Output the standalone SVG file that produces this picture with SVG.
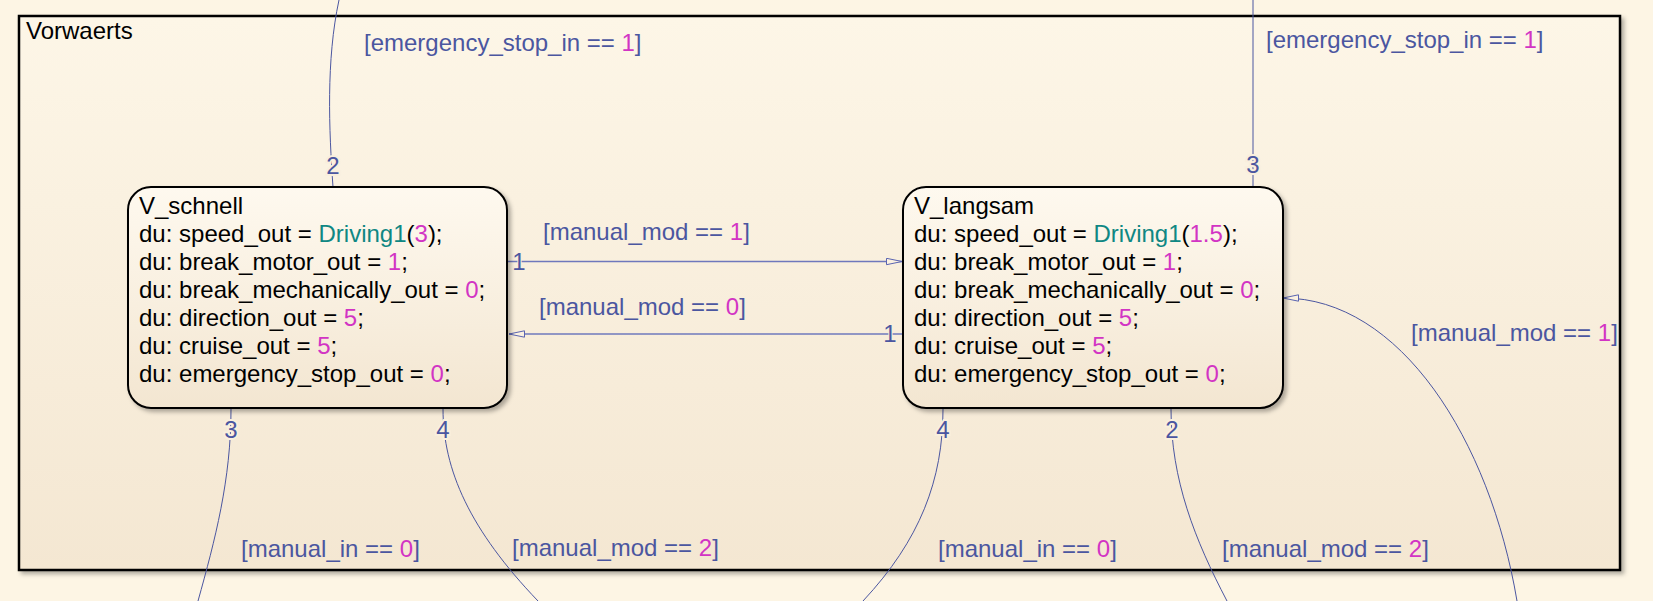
<svg xmlns="http://www.w3.org/2000/svg" width="1653" height="601" viewBox="0 0 1653 601">
<defs>
<linearGradient id="gFrame" x1="0" y1="0" x2="0" y2="1">
<stop offset="0" stop-color="#fdf6e7"/>
<stop offset="1" stop-color="#f4e7d2"/>
</linearGradient>
<linearGradient id="gState" x1="0" y1="0" x2="0" y2="1">
<stop offset="0" stop-color="#fef9ef"/>
<stop offset="1" stop-color="#f3e6d1"/>
</linearGradient>
<filter id="shadow" x="-5%" y="-5%" width="110%" height="115%">
<feDropShadow dx="3" dy="3" stdDeviation="2" flood-color="#000" flood-opacity="0.3"/>
</filter>
<marker id="arrow" markerWidth="18" markerHeight="10" refX="16" refY="4" orient="auto" markerUnits="userSpaceOnUse">
<path d="M0.5,0.8 L16,4 L0.5,7.2 Z" fill="#fbf1e1" stroke="#5a64b0" stroke-width="1"/>
</marker>
</defs>
<style>
text { font-family: "Liberation Sans", Arial, sans-serif; font-size: 24px; }
.title { fill: #000; }
.body { fill: #000; }
.num { fill: #d234c4; }
.fn { fill: #0f8783; }
.lbl { fill: #4b56a0; }
.port { fill: #4b56a0; stroke: #f9efdd; stroke-width: 4; paint-order: stroke; text-anchor: middle; }
.edge { fill: none; stroke: #4b56a0; stroke-width: 1; }
.hedge { fill: none; stroke: #6f78bc; stroke-width: 1.4; }
.state { fill: url(#gState); stroke: #000; stroke-width: 2; filter: url(#shadow); }
</style>
<rect x="0" y="0" width="1653" height="601" fill="#fdf5e4"/>

<g id="Vorwaerts">
<rect x="19" y="16" width="1601" height="554" fill="url(#gFrame)" stroke="#000" stroke-width="2.5" filter="url(#shadow)"/>
<text class="title" x="26" y="39">Vorwaerts</text>
</g>

<g id="connectors">
<path class="edge" d="M333,187 C329,130 326,60 339,0"/>
<path class="edge" d="M1253,187 L1253,0"/>
<path class="hedge" d="M508,261.5 L902,261.5" marker-end="url(#arrow)"/>
<path class="hedge" d="M903,334 L509,334" marker-end="url(#arrow)"/>
<path class="edge" d="M1517,601 C1490,440 1400,298 1283,298" marker-end="url(#arrow)"/>
<path class="edge" d="M231,409 C231,480 215,540 198,601"/>
<path class="edge" d="M443,409 C443,470 470,530 538,601"/>
<path class="edge" d="M943,409 C943,480 920,540 863,601"/>
<path class="edge" d="M1171,409 C1171,480 1195,540 1227,601"/>

<text class="port" x="333" y="174">2</text>
<text class="port" x="1253" y="173">3</text>
<text class="port" x="519" y="270" style="stroke-width:2">1</text>
<text class="port" x="890" y="342" style="stroke-width:2">1</text>
<text class="port" x="231" y="438">3</text>
<text class="port" x="443" y="438">4</text>
<text class="port" x="943" y="438">4</text>
<text class="port" x="1172" y="438">2</text>

<text class="lbl" x="364" y="51">[emergency_stop_in == <tspan class="num">1</tspan>]</text>
<text class="lbl" x="1266" y="48">[emergency_stop_in == <tspan class="num">1</tspan>]</text>
<text class="lbl" x="543" y="240">[manual_mod == <tspan class="num">1</tspan>]</text>
<text class="lbl" x="539" y="315">[manual_mod == <tspan class="num">0</tspan>]</text>
<text class="lbl" x="1411" y="341">[manual_mod == <tspan class="num">1</tspan>]</text>
<text class="lbl" x="241" y="557">[manual_in == <tspan class="num">0</tspan>]</text>
<text class="lbl" x="512" y="556">[manual_mod == <tspan class="num">2</tspan>]</text>
<text class="lbl" x="938" y="557">[manual_in == <tspan class="num">0</tspan>]</text>
<text class="lbl" x="1222" y="557">[manual_mod == <tspan class="num">2</tspan>]</text>
</g>

<g id="V_schnell">
<rect class="state" x="128" y="187" width="379" height="221" rx="23" ry="23"/>
<text class="body" x="139" y="214">V_schnell</text>
<text class="body" x="139" y="242">du: speed_out = <tspan class="fn">Driving1</tspan>(<tspan class="num">3</tspan>);</text>
<text class="body" x="139" y="270">du: break_motor_out = <tspan class="num">1</tspan>;</text>
<text class="body" x="139" y="298">du: break_mechanically_out = <tspan class="num">0</tspan>;</text>
<text class="body" x="139" y="326">du: direction_out = <tspan class="num">5</tspan>;</text>
<text class="body" x="139" y="354">du: cruise_out = <tspan class="num">5</tspan>;</text>
<text class="body" x="139" y="382">du: emergency_stop_out = <tspan class="num">0</tspan>;</text>
</g>

<g id="V_langsam">
<rect class="state" x="903" y="187" width="380" height="221" rx="23" ry="23"/>
<text class="body" x="914" y="214">V_langsam</text>
<text class="body" x="914" y="242">du: speed_out = <tspan class="fn">Driving1</tspan>(<tspan class="num">1.5</tspan>);</text>
<text class="body" x="914" y="270">du: break_motor_out = <tspan class="num">1</tspan>;</text>
<text class="body" x="914" y="298">du: break_mechanically_out = <tspan class="num">0</tspan>;</text>
<text class="body" x="914" y="326">du: direction_out = <tspan class="num">5</tspan>;</text>
<text class="body" x="914" y="354">du: cruise_out = <tspan class="num">5</tspan>;</text>
<text class="body" x="914" y="382">du: emergency_stop_out = <tspan class="num">0</tspan>;</text>
</g>
</svg>
